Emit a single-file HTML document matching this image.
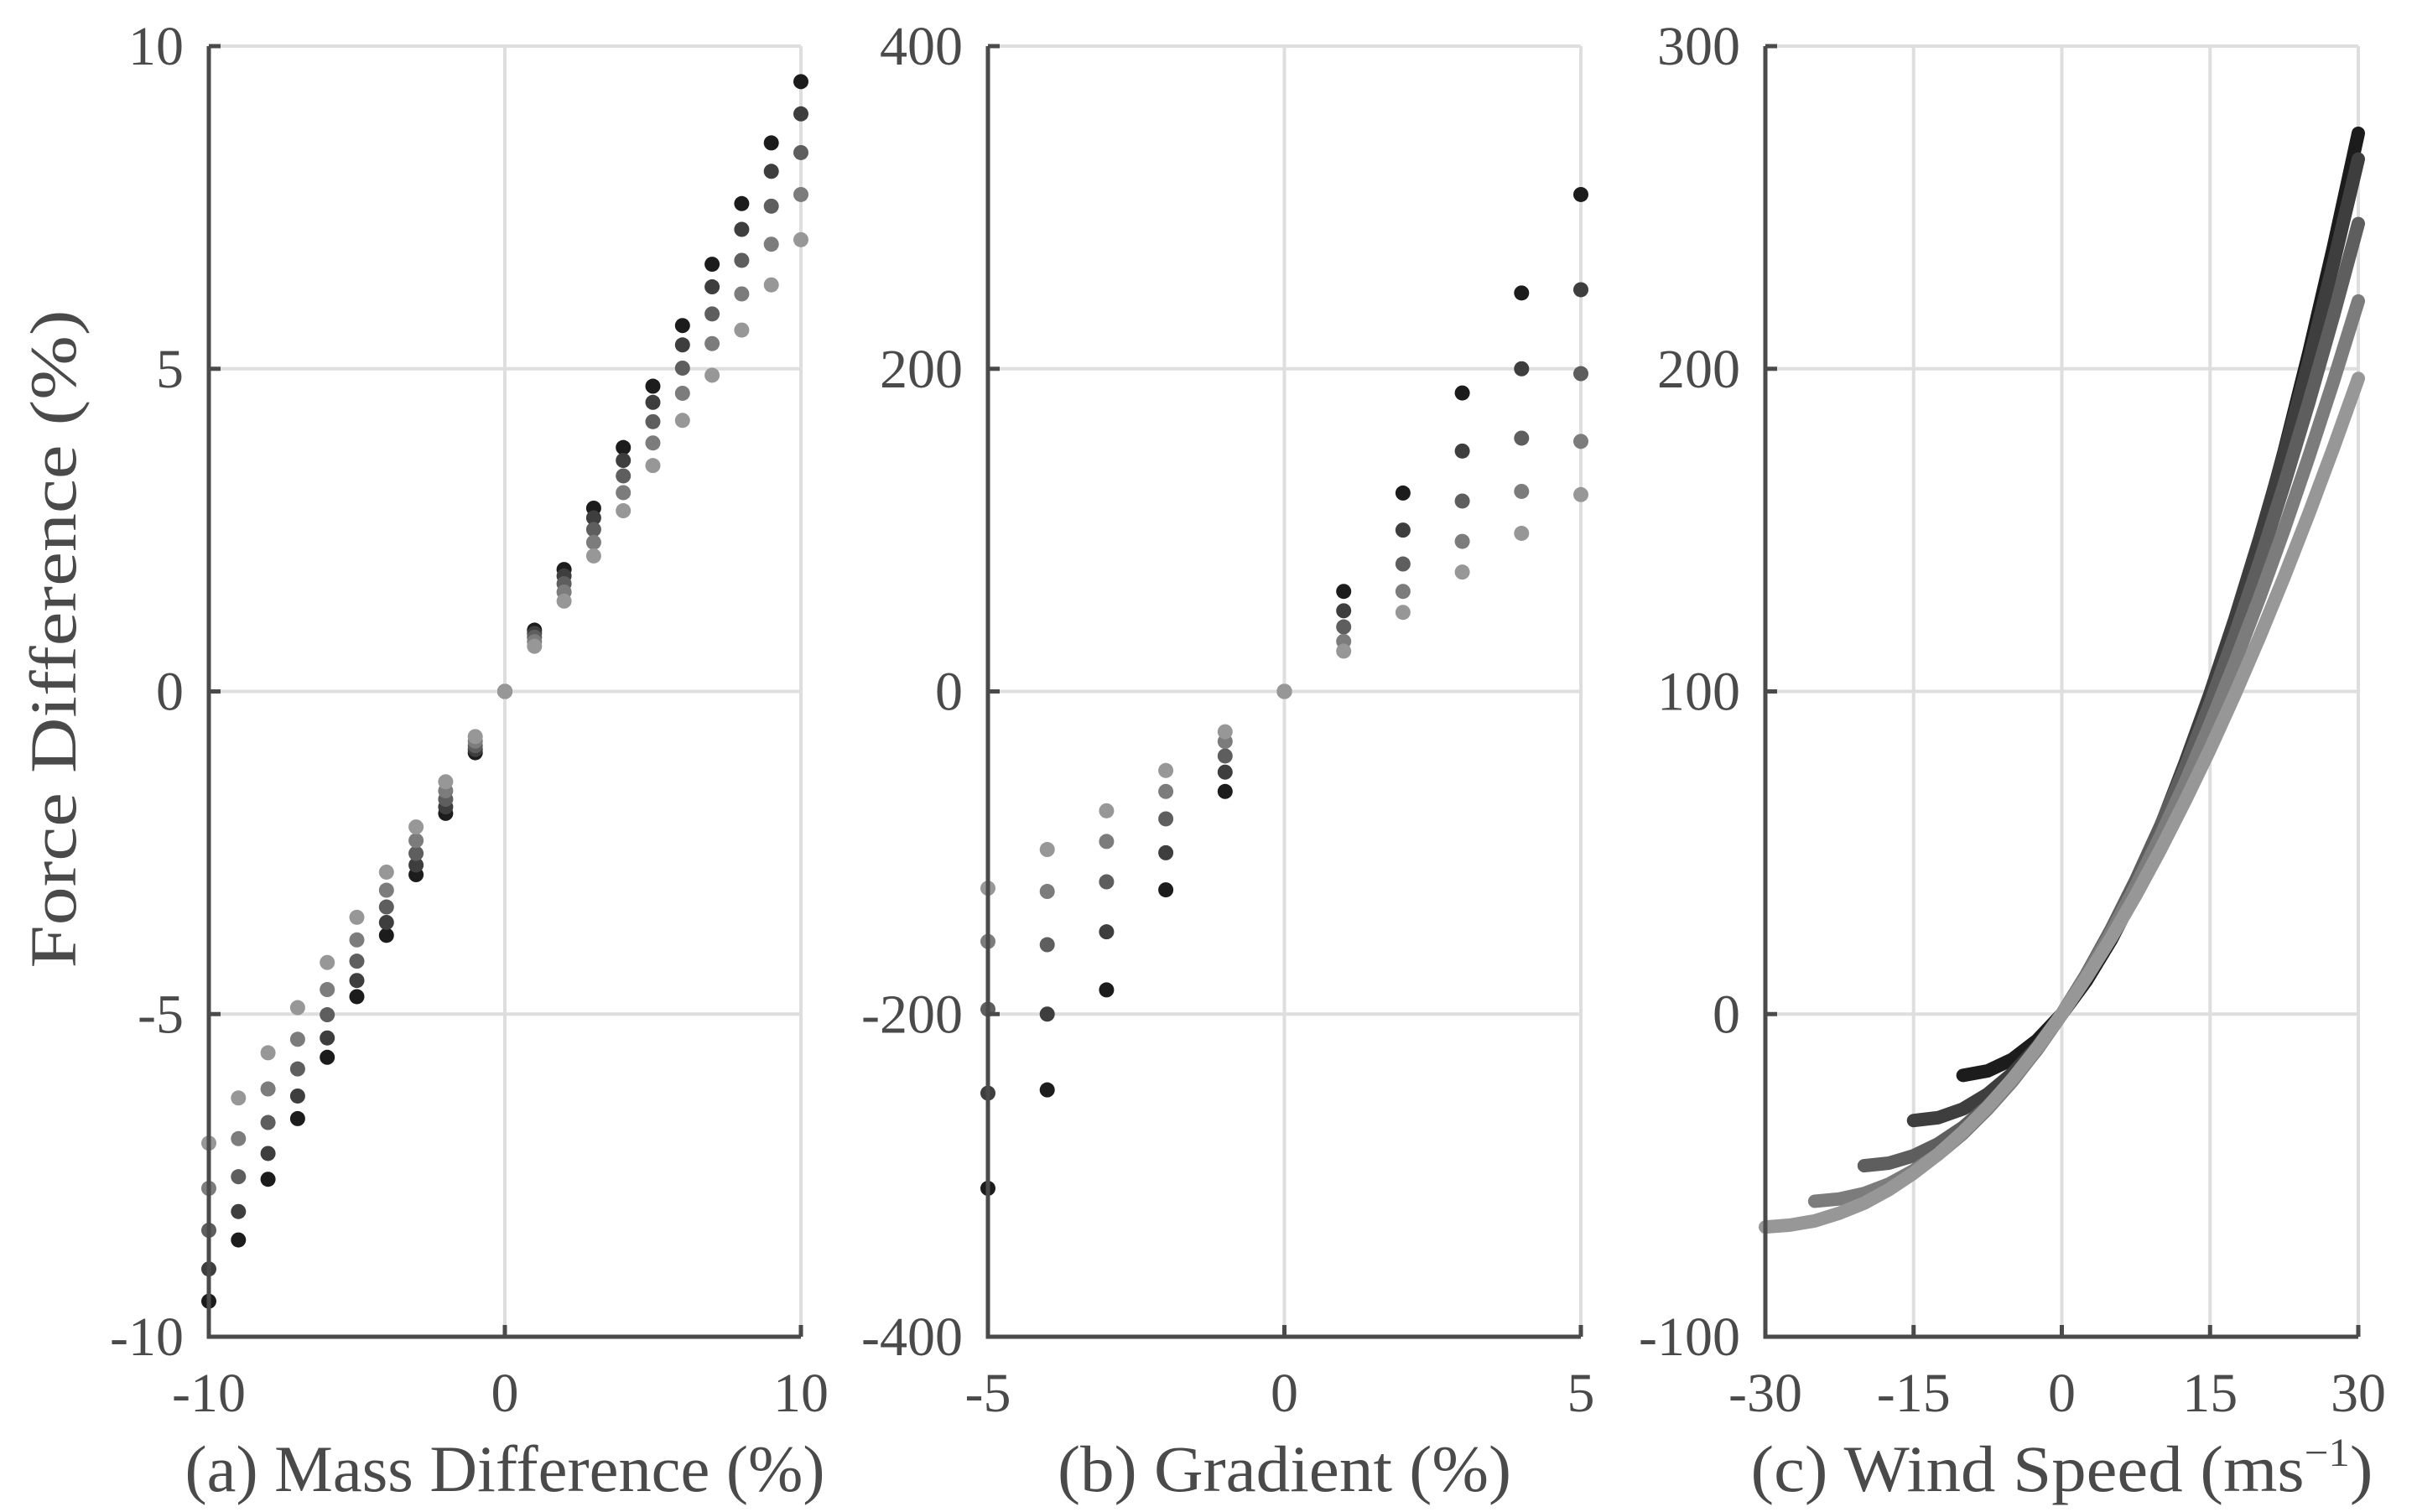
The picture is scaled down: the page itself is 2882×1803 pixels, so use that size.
<!DOCTYPE html>
<html><head><meta charset="utf-8"><style>
html,body{margin:0;padding:0;background:#fff;}
svg{display:block;}
text{font-family:"Liberation Serif",serif;fill:#4a4a4a;}
</style></head><body>
<svg id="chart" width="2882" height="1803" viewBox="0 0 2882 1803" xmlns="http://www.w3.org/2000/svg">
<text x="0" y="0" font-size="78" text-anchor="middle" textLength="785" lengthAdjust="spacingAndGlyphs" transform="translate(90,762) rotate(-90)">Force Difference (%)</text>
</svg>
<script>
// Panel (a) data
const massX = [-10,-9,-8,-7,-6,-5,-4,-3,-2,-1,0,1,2,3,4,5,6,7,8,9,10];
const massS1 = [-9.45,-8.5,-7.56,-6.62,-5.67,-4.73,-3.78,-2.84,-1.89,-0.95,0,0.95,1.89,2.84,3.78,4.73,5.67,6.62,7.56,8.5,9.45];
const massS2 = [-8.95,-8.06,-7.16,-6.27,-5.37,-4.48,-3.58,-2.69,-1.79,-0.9,0,0.9,1.79,2.69,3.58,4.48,5.37,6.27,7.16,8.06,8.95];
const massS3 = [-8.35,-7.52,-6.68,-5.85,-5.01,-4.18,-3.34,-2.51,-1.67,-0.84,0,0.84,1.67,2.51,3.34,4.18,5.01,5.85,6.68,7.52,8.35];
const massS4 = [-7.7,-6.93,-6.16,-5.39,-4.62,-3.85,-3.08,-2.31,-1.54,-0.77,0,0.77,1.54,2.31,3.08,3.85,4.62,5.39,6.16,6.93,7.7];
const massS5 = [-7,-6.3,-5.6,-4.9,-4.2,-3.5,-2.8,-2.1,-1.4,-0.7,0,0.7,1.4,2.1,2.8,3.5,4.2,4.9,5.6,6.3,7];
const massXTicks = [-10,0,10];
const massYTicks = [-10,-5,0,5,10];
// Panel (b) data
const gradX = [-5,-4,-3,-2,-1,0,1,2,3,4,5];
const gradS1 = [-308,-247,-185,-123,-62,0,62,123,185,247,308];
const gradS2 = [-249,-200,-149,-100,-50,0,50,100,149,200,249];
const gradS3 = [-197,-157,-118,-79,-40,0,40,79,118,157,197];
const gradS4 = [-155,-124,-93,-62,-31,0,31,62,93,124,155];
const gradS5 = [-122,-98,-74,-49,-25,0,25,49,74,98,122];
const gradXTicks = [-5,0,5];
const gradYTicks = [-400,-200,0,200,400];
// Panel (c) data
const windX1 = [-10,-7.5,-5,-2.5,0,2.5,5,7.5,10,12.5,15,17.5,20,22.5,25,27.5,30];
const windS1 = [-19,-17.6,-14,-8.1,0,10.4,23,37.9,55,74.4,96,119.9,146,174.4,205,237.9,273];
const windX2 = [-15,-12.5,-10,-7.5,-5,-2.5,0,2.5,5,7.5,10,12.5,15,17.5,20,22.5,25,27.5,30];
const windS2 = [-33,-32.1,-29.4,-24.8,-18.4,-10.1,0,11.9,25.7,41.4,58.2,78.1,99.3,122.3,147.2,173.8,202.4,232.8,265];
const windX3 = [-20,-17.5,-15,-12.5,-10,-7.5,-5,-2.5,0,2.5,5,7.5,10,12.5,15,17.5,20,22.5,25,27.5,30];
const windS3 = [-47,-46.2,-43.9,-40.2,-35.1,-28.5,-20.5,-11,0,12.4,26.3,41.6,58.4,76.6,96.3,117.4,140,164.1,189.6,216.6,245];
const windX4 = [-25,-22.5,-20,-17.5,-15,-12.5,-10,-7.5,-5,-2.5,0,2.5,5,7.5,10,12.5,15,17.5,20,22.5,25,27.5,30];
const windS4 = [-58,-57.3,-55.6,-52.7,-48.5,-43.4,-37,-29.4,-20.8,-10.9,0,12.1,25.4,39.8,55.3,71.9,89.9,108.9,129,150.3,172.8,196.3,221];
const windX5 = [-30,-27.5,-25,-22.5,-20,-17.5,-15,-12.5,-10,-7.5,-5,-2.5,0,2.5,5,7.5,10,12.5,15,17.5,20,22.5,25,27.5,30];
const windS5 = [-66,-65.4,-64.1,-61.7,-58.6,-54.4,-49.3,-43.4,-36.5,-28.8,-20.1,-10.5,0,11.4,23.7,36.9,51.1,66.2,82.1,99,116.8,135.5,155.1,175.6,197];
const windXTicks = [-30,-15,0,15,30];
const windYTicks = [-100,0,100,200,300];

const colors = ['#1c1c1c','#3e3e3e','#5e5e5e','#7c7c7c','#979797'];
const NS = 'http://www.w3.org/2000/svg';
const svg = document.getElementById('chart');
function mk(tag, attrs){const e=document.createElementNS(NS,tag);for(const k in attrs)e.setAttribute(k,attrs[k]);return e;}

function panel(opts){
  const g = mk('g',{});
  
  
  svg.appendChild(g);
  const L=opts.left,R=opts.right,T=55,B=1594;
  const sx=v=>L+(v-opts.xmin)/(opts.xmax-opts.xmin)*(R-L);
  const sy=v=>B-(v-opts.ymin)/(opts.ymax-opts.ymin)*(B-T);
  opts.xticks.forEach(t=>{
    const l=mk('line',{x1:sx(t),x2:sx(t),y1:T,y2:B,stroke:'#dedede','stroke-width':4});
    
    
    g.appendChild(l);
  });
  opts.yticks.forEach(t=>{
    const l=mk('line',{x1:L,x2:R,y1:sy(t),y2:sy(t),stroke:'#dedede','stroke-width':4});
    
    
    g.appendChild(l);
  });
  opts.series.forEach((s,i)=>{
    if(opts.lines){
      const p=mk('polyline',{points:s.x.map((x,j)=>sx(x)+','+sy(s.y[j])).join(' '),fill:'none',stroke:colors[i],'stroke-width':16,'stroke-linecap':'round','stroke-linejoin':'round'});
      
      
      g.appendChild(p);
    } else {
      s.x.forEach((x,j)=>{
        const c=mk('circle',{cx:sx(x),cy:sy(s.y[j]),r:9,fill:colors[i]});
        
        
        g.appendChild(c);
      });
    }
  });
  const ax=mk('path',{d:`M${L},${T} L${L},${B} L${R},${B}`,fill:'none',stroke:'#4a4a4a','stroke-width':5});
  
  
  g.appendChild(ax);
  opts.yticks.forEach(t=>{
    const tk=mk('line',{x1:L,x2:L+14,y1:sy(t),y2:sy(t),stroke:'#4a4a4a','stroke-width':5});
    
    
    g.appendChild(tk);
    const tx=mk('text',{x:L-30,y:sy(t)+22,'font-size':66,'text-anchor':'end'});
    tx.textContent=t;
    
    
    g.appendChild(tx);
  });
  opts.xticks.forEach(t=>{
    const tk=mk('line',{x1:sx(t),x2:sx(t),y1:B,y2:B-14,stroke:'#4a4a4a','stroke-width':5});
    
    
    g.appendChild(tk);
    const tx=mk('text',{x:sx(t),y:1683,'font-size':66,'text-anchor':'middle'});
    tx.textContent=t;
    
    
    g.appendChild(tx);
  });
  const title=mk('text',{x:(L+R)/2,y:1778,'font-size':78,'text-anchor':'middle',textLength:opts.tlen,lengthAdjust:'spacingAndGlyphs'});
  title.innerHTML=opts.title;
  
  
  g.appendChild(title);
}

panel({name:'panel-mass',left:249,right:955,xmin:-10,xmax:10,ymin:-10,ymax:10,xticks:massXTicks,yticks:massYTicks,tlen:763,
  series:[{x:massX,y:massS1},{x:massX,y:massS2},{x:massX,y:massS3},{x:massX,y:massS4},{x:massX,y:massS5}],
  title:'(a) Mass Difference (%)'});
panel({name:'panel-gradient',left:1178,right:1885,xmin:-5,xmax:5,ymin:-400,ymax:400,xticks:gradXTicks,yticks:gradYTicks,tlen:541,
  series:[{x:gradX,y:gradS1},{x:gradX,y:gradS2},{x:gradX,y:gradS3},{x:gradX,y:gradS4},{x:gradX,y:gradS5}],
  title:'(b) Gradient (%)'});
panel({name:'panel-wind',left:2105,right:2812,xmin:-30,xmax:30,ymin:-100,ymax:300,xticks:windXTicks,yticks:windYTicks,lines:true,tlen:742,
  series:[{x:windX1,y:windS1},{x:windX2,y:windS2},{x:windX3,y:windS3},{x:windX4,y:windS4},{x:windX5,y:windS5}],
  title:'(c) Wind Speed (ms<tspan dy="-30" font-size="48">−1</tspan><tspan dy="30">)</tspan>'});
</script>
</body></html>
